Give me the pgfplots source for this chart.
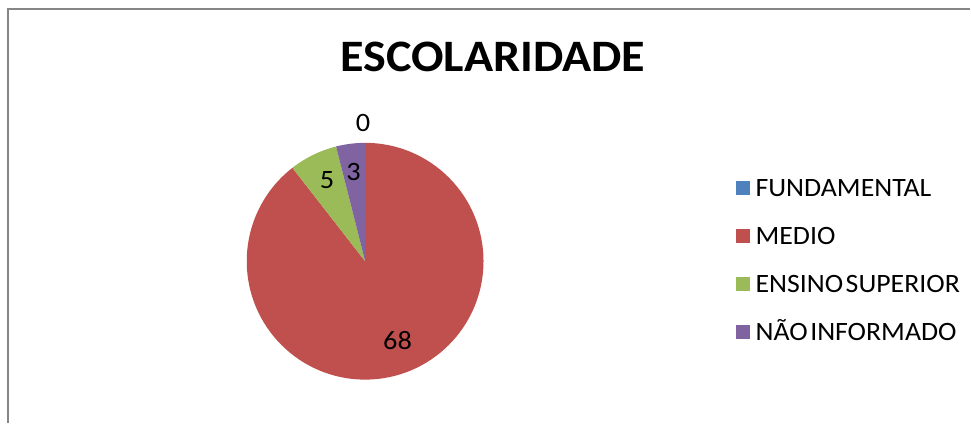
\documentclass[border=0pt]{standalone}
\usepackage{pgfplots}
\usepackage{pgfplotstable}
\pgfplotsset{compat=1.18}
\usepackage{fontspec}
\setmainfont{Carlito}[FakeStretch=1.07]
\newfontfamily\legfont{Carlito}[FakeStretch=1.05]
\definecolor{cfund}{HTML}{4F81BD}
\definecolor{cmed}{HTML}{C0504D}
\definecolor{csup}{HTML}{9BBB59}
\definecolor{cnao}{HTML}{8064A2}
\definecolor{frame}{HTML}{868686}
\pgfplotstableread{
cat v
FUNDAMENTAL 0
MEDIO 68
SUPERIOR 5
NAO 3
}\data
\begin{document}
\begin{tikzpicture}
\pgfplotstablegetelem{0}{v}\of\data\let\va\pgfplotsretval
\pgfplotstablegetelem{1}{v}\of\data\let\vb\pgfplotsretval
\pgfplotstablegetelem{2}{v}\of\data\let\vc\pgfplotsretval
\pgfplotstablegetelem{3}{v}\of\data\let\vd\pgfplotsretval
\pgfmathsetmacro\tot{\va+\vb+\vc+\vd}
\pgfmathsetmacro\aA{90-\va/\tot*360}
\pgfmathsetmacro\aB{\aA-\vb/\tot*360}
\pgfmathsetmacro\aC{\aB-\vc/\tot*360}
\pgfmathsetmacro\aD{\aC-\vd/\tot*360}
\begin{axis}[
  at={(0,0)}, anchor=south west,
  width=971bp, height=423bp, scale only axis,
  xmin=0, xmax=971, ymin=0, ymax=423, y dir=reverse,
  hide axis, clip=false,
  legend style={at={(axis cs:737,179.5)}, anchor=north west, draw=none, fill=none,
    inner sep=0pt, outer sep=0pt, row sep=31bp,
    nodes={inner sep=0pt, outer sep=0pt, font=\legfont\fontsize{26.5bp}{30bp}\selectfont, text height=17bp, text depth=0bp, anchor=base west},
    /tikz/every odd column/.append style={column sep=6bp}},
  legend cell align=left,
  legend image code/.code={\fill[#1] (0bp,2bp) rectangle (13bp,15bp);},
]
\draw[frame, line width=2bp] (axis cs:8.5,423) -- (axis cs:8.5,9.5) -- (axis cs:971,9.5);
\addlegendimage{cfund}
\addlegendentry{FUNDAMENTAL}
\addlegendimage{cmed}
\addlegendentry{MEDIO}
\addlegendimage{csup}
\addlegendentry{ENSINO\hspace{2.5bp}SUPERIOR}
\addlegendimage{cnao}
\addlegendentry{NÃO\hspace{2.5bp}INFORMADO}
\fill[cfund] (axis cs:365.5,261.5) -- ++(90:118.5bp) arc[start angle=90, end angle=\aA, radius=118.5bp] -- cycle;
\fill[cmed] (axis cs:365.5,261.5) -- ++(\aA:118.5bp) arc[start angle=\aA, end angle=\aB, radius=118.5bp] -- cycle;
\fill[csup] (axis cs:365.5,261.5) -- ++(\aB:118.5bp) arc[start angle=\aB, end angle=\aC, radius=118.5bp] -- cycle;
\fill[cnao] (axis cs:365.5,261.5) -- ++(\aC:118.5bp) arc[start angle=\aC, end angle=\aD, radius=118.5bp] -- cycle;
\node[anchor=base, inner sep=0pt, font=\fontsize{45bp}{50bp}\selectfont\bfseries] at (axis cs:493.5,72) {ESCOLARIDADE};
\node[anchor=base, inner sep=0pt, font=\fontsize{26.5bp}{30bp}\selectfont] at (axis cs:363.5,131.5) {0};
\node[anchor=base, inner sep=0pt, font=\fontsize{26.5bp}{30bp}\selectfont] at (axis cs:354,181) {3};
\node[anchor=base, inner sep=0pt, font=\fontsize{26.5bp}{30bp}\selectfont] at (axis cs:327.5,189) {5};
\node[anchor=base, inner sep=0pt, font=\fontsize{26.5bp}{30bp}\selectfont] at (axis cs:398,350) {68};
\end{axis}
\useasboundingbox (0,0) rectangle (971bp,423bp);
\end{tikzpicture}
\end{document}
